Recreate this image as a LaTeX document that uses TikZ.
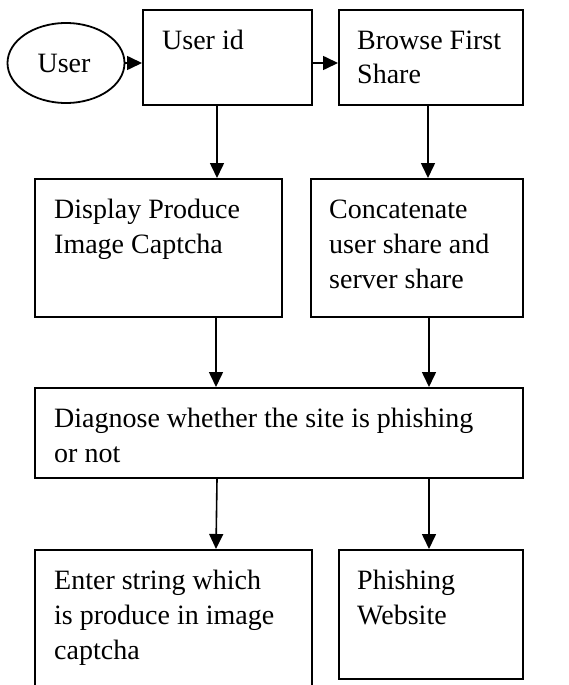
\documentclass[tikz,border=0pt]{standalone}
\usepackage{fontspec}
\setmainfont{Liberation Serif}
\usetikzlibrary{arrows.meta,shapes.geometric}
\begin{document}
\begin{tikzpicture}[x=1pt,y=-1pt,
  box/.style={draw,line width=1.8pt,rectangle,inner sep=0pt,anchor=north west},
  lbl/.style={anchor=base west,inner sep=0pt,align=left,font=\fontsize{28}{35}\selectfont},
  arr/.style={line width=1.6pt,-{Triangle[length=15pt,width=14pt]}}]
\clip (0,0) rectangle (569,685);
\fill[white] (0,0) rectangle (569,685);
% nodes
\node[draw,line width=1.8pt,ellipse,minimum width=117pt,minimum height=80pt,inner sep=0pt] (user) at (66,63) {};
\node[lbl,anchor=base] (usert) at (64,72) {User};
\node[box,minimum width=169pt,minimum height=95pt] (uid) at (142,9) {};
\node[lbl] (uidt) at (162,49) {User id};
\node[box,minimum width=184pt,minimum height=95pt] (browse) at (338,9) {};
\node[lbl] (browset) at (357,84) {Browse First\\Share};
\node[box,minimum width=247pt,minimum height=138pt] (disp) at (34,178) {};
\node[lbl] (dispt) at (54,253) {Display Produce\\Image Captcha};
\node[box,minimum width=212pt,minimum height=138pt] (conc) at (310,178) {};
\node[lbl] (conct) at (329,288) {Concatenate\\user share and\\server share};
\node[box,minimum width=488pt,minimum height=90pt] (diag) at (34,387) {};
\node[lbl] (diagt) at (54,462) {Diagnose whether the site is phishing\\or not};
\node[box,minimum width=277pt,minimum height=160pt] (enter) at (34,549) {};
\node[lbl] (entert) at (54,659) {Enter string which\\is produce in image\\captcha};
\node[box,minimum width=184pt,minimum height=129pt] (phish) at (338,549) {};
\node[lbl] (phisht) at (357,624) {Phishing\\Website};
% connectors
\draw[arr] (user.east) -- (uid.west |- user.east);
\draw[arr] (uid.east |- user.east) -- (browse.west |- user.east);
\draw[arr] ([xshift=75pt]uid.south west) -- ([xshift=75pt]uid.south west |- disp.north);
\draw[arr] ([xshift=90pt]browse.south west) -- ([xshift=90pt]browse.south west |- conc.north);
\draw[arr] ([xshift=182pt]disp.south west) -- ([xshift=182pt]disp.south west |- diag.north);
\draw[arr] ([xshift=119pt]conc.south west) -- ([xshift=119pt]conc.south west |- diag.north);
\draw[arr] ([xshift=183pt]diag.south west) -- ([xshift=182pt]diag.south west |- enter.north);
\draw[arr] ([xshift=395pt]diag.south west) -- ([xshift=395pt]diag.south west |- phish.north);
\end{tikzpicture}
\end{document}
